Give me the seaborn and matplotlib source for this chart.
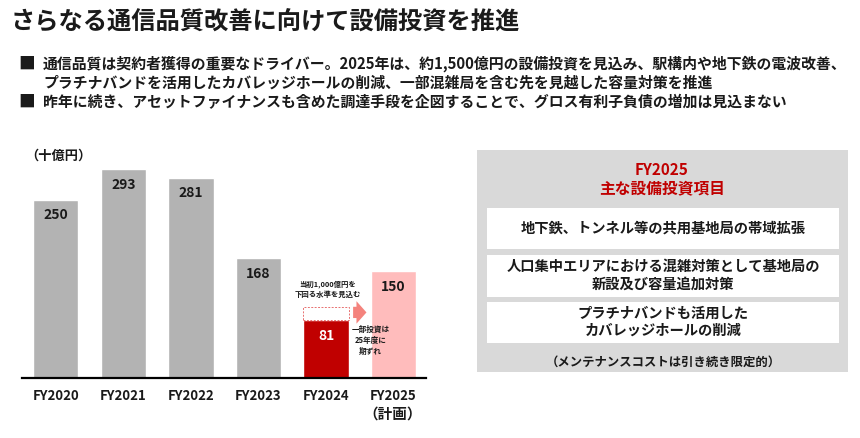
import pandas as pd
import matplotlib.pyplot as plt
from matplotlib.patches import Rectangle
import seaborn as sns

# data (十億円)
years = ["FY2020", "FY2021", "FY2022", "FY2023", "FY2024", "FY2025"]
capex = [250, 293, 281, 168, 81, 150]
bar_colors = ["#b3b3b3", "#b3b3b3", "#b3b3b3", "#b3b3b3", "#c00000", "#ffbcbc"]
initial_plan_2024 = 100  # 当初1,000億円

title = "さらなる通信品質改善に向けて設備投資を推進"
bullets = [
    "通信品質は契約者獲得の重要なドライバー。2025年は、約1,500億円の設備投資を見込み、駅構内や地下鉄の電波改善、\n"
    "プラチナバンドを活用したカバレッジホールの削減、一部混雑局を含む先を見越した容量対策を推進",
    "昨年に続き、アセットファイナンスも含めた調達手段を企図することで、グロス有利子負債の増加は見込まない",
]
panel_items = [
    "地下鉄、トンネル等の共用基地局の帯域拡張",
    "人口集中エリアにおける混雑対策として基地局の\n新設及び容量追加対策",
    "プラチナバンドも活用した\nカバレッジホールの削減",
]
panel_note = "（メンテナンスコストは引き続き限定的）"

sns.set_style("white")
plt.rcParams['font.family'] = ['Noto Sans CJK JP', 'DejaVu Sans']

RED = "#c00000"
TXT = "#1a1a1a"

fig = plt.figure(figsize=(8.6, 4.38), dpi=100)

# bar chart
df = pd.DataFrame({"year": years, "capex": capex})
ax = fig.add_axes([22 / 860, 60 / 438, 404 / 860, 218 / 438])
sns.barplot(data=df, x="year", y="capex", hue="year", palette=bar_colors,
            legend=False, width=0.67, saturation=1, ax=ax)
ax.bar(4, initial_plan_2024 - capex[4], bottom=capex[4], width=0.67,
       facecolor="white", edgecolor="#e87070", linestyle=(0, (2, 1.5)), linewidth=0.7)
ax.set_xlim(-0.5, 5.48)
ax.set_ylim(0, 305.8)
for i, v in enumerate(capex):
    ax.text(i, v - 22, str(v), ha="center", va="center", fontsize=10,
            weight="bold", color="white" if i == 4 else TXT)
ax.annotate("", xy=(4.64, 92), xytext=(4.36, 92),
            arrowprops=dict(arrowstyle="simple,head_length=0.4,head_width=0.9,tail_width=0.45",
                            color="#f4837d", lw=0, mutation_scale=18))
ax.text(4.02, 125, "当初1,000億円を\n下回る水準を見込む", ha="center", va="center",
        fontsize=5.3, weight="bold", color=TXT, linespacing=1.3)
ax.text(4.66, 53, "一部投資は\n25年度に\n期ずれ", ha="center", va="center",
        fontsize=5.5, weight="bold", color=TXT, linespacing=1.3)

sns.despine(ax=ax, left=True)
ax.spines["bottom"].set_color("black")
ax.spines["bottom"].set_linewidth(1.6)
ax.set_yticks([])
ax.set_xlabel("")
ax.set_ylabel("")
ax.tick_params(axis="x", length=0, pad=8, labelsize=9.5, labelcolor=TXT)
for lbl in ax.get_xticklabels():
    lbl.set_fontweight("bold")

# overlay in pixel coordinates for text and the right panel
ov = fig.add_axes([0, 0, 1, 1])
ov.set_xlim(0, 860)
ov.set_ylim(438, 0)
ov.axis("off")

ov.text(11, 22, title, ha="left", va="center", fontsize=17.5, weight="bold", color=TXT)
ov.text(18, 64, "■", ha="left", va="center", fontsize=12, color=TXT)
ov.text(43, 73, bullets[0], ha="left", va="center", fontsize=10.7, weight="bold",
        color=TXT, linespacing=1.2)
ov.text(18, 102, "■", ha="left", va="center", fontsize=12, color=TXT)
ov.text(43, 102, bullets[1], ha="left", va="center", fontsize=10.7, weight="bold", color=TXT)

ov.text(25, 156, "（十億円）", ha="left", va="center", fontsize=9.5, weight="bold", color=TXT)
ov.text(393, 414, "（計画）", ha="center", va="center", fontsize=10.5, weight="bold", color=TXT)

ov.add_patch(Rectangle((477, 150), 371, 222, facecolor="#d9d9d9", edgecolor="none"))
ov.text(662, 170, "FY2025", ha="center", va="center", fontsize=11, weight="bold", color=RED)
ov.text(662, 188, "主な設備投資項目", ha="center", va="center", fontsize=11.3, weight="bold", color=RED)
boxes = [(208, 41), (255, 42), (302, 41)]
for (top, h), item in zip(boxes, panel_items):
    ov.add_patch(Rectangle((487, top), 352, h, facecolor="white", edgecolor="none"))
    ov.text(663, top + h / 2, item, ha="center", va="center", fontsize=10.3,
            weight="bold", color=TXT, linespacing=1.3)
ov.text(663, 362, panel_note, ha="center", va="center", fontsize=8.9, weight="bold", color=TXT)

fig.savefig("out.png", dpi=100, facecolor="white")
